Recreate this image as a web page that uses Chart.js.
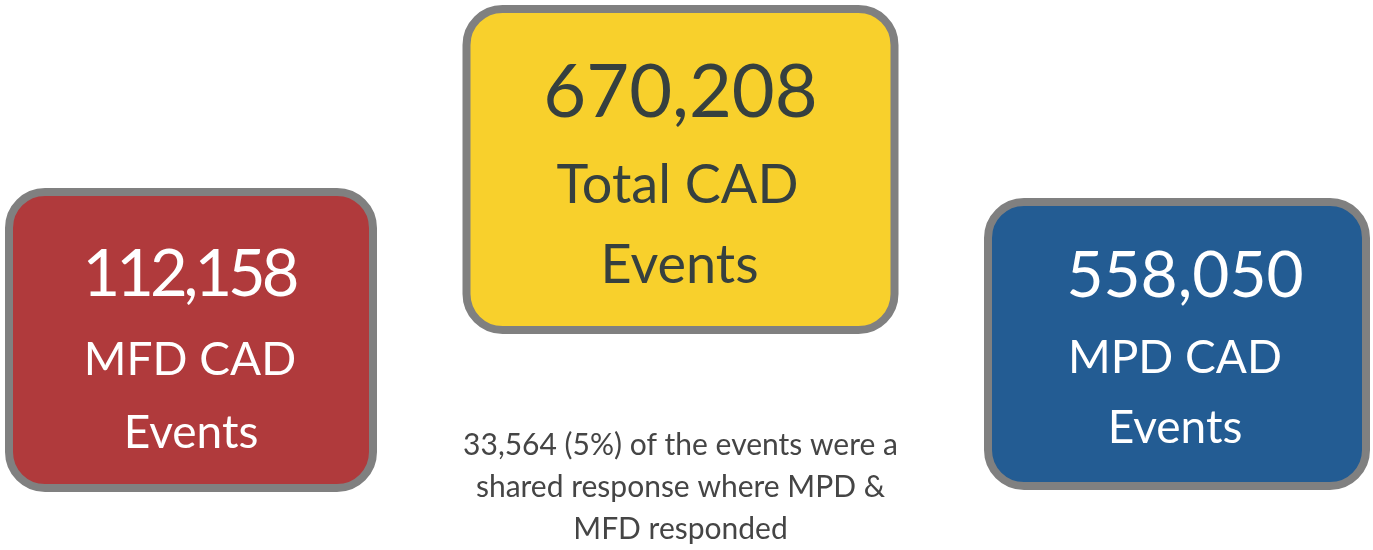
<!DOCTYPE html>
<html>
<head>
<meta charset="utf-8">
<script src="https://cdn.jsdelivr.net/npm/chart.js@4.4.1/dist/chart.umd.min.js"></script>
<style>
  html, body { margin: 0; padding: 0; background: #ffffff; }
  #wrap { width: 1373px; height: 550px; position: relative; }
</style>
</head>
<body>
<div id="wrap"><canvas id="c" width="1373" height="550"></canvas></div>
<script>
// ---- data ----
const categories = ['MFD', 'Total', 'MPD'];
const eventCounts = [112158, 670208, 558050];
const boxLabelLines = [['MFD CAD', 'Events'], ['Total CAD', 'Events'], ['MPD CAD', 'Events']];
const captionLines = ['33,564 (5%) of the events were a', 'shared response where MPD &', 'MFD responded'];

// ---- styles / layout ----
const FONT = 'Lato, "Open Sans", sans-serif';
const WEIGHT = '400';
const boxStyles = [
  { fill: '#B03A3C', text: '#FFFFFF', width: 372, top: 188, bottom: 492, dx: -1,
    numSize: 65, numY: 296, numDx: 0, numSpacing: -4, labSize: 46, labY: [375, 448], labDx: [-1, 0] },
  { fill: '#F8D02C', text: '#36403F', width: 436, top: 5, bottom: 334, dx: -4,
    numSize: 74, numY: 117, numDx: 0, numSpacing: 0, labSize: 54, labY: [203, 283], labDx: [-3, -1] },
  { fill: '#235C93', text: '#FFFFFF', width: 386, top: 198, bottom: 490, dx: 0,
    numSize: 64, numY: 297, numDx: 8, numSpacing: 0, labSize: 46, labY: [373, 443], labDx: [-2, -2] }
];

function roundRect(ctx, x, y, w, h, r) {
  ctx.beginPath();
  ctx.moveTo(x + r, y);
  ctx.lineTo(x + w - r, y);
  ctx.arcTo(x + w, y, x + w, y + r, r);
  ctx.lineTo(x + w, y + h - r);
  ctx.arcTo(x + w, y + h, x + w - r, y + h, r);
  ctx.lineTo(x + r, y + h);
  ctx.arcTo(x, y + h, x, y + h - r, r);
  ctx.lineTo(x, y + r);
  ctx.arcTo(x, y, x + r, y, r);
  ctx.closePath();
}

function centeredText(ctx, text, cx, y, spacing) {
  if (!spacing) { ctx.textAlign = 'center'; ctx.fillText(text, cx, y); return; }
  const chars = Array.from(text);
  const widths = chars.map(c => ctx.measureText(c).width);
  const total = widths.reduce((a, b) => a + b, 0) + spacing * (chars.length - 1);
  let x = cx - total / 2;
  ctx.textAlign = 'left';
  chars.forEach((c, k) => { ctx.fillText(c, x, y); x += widths[k] + spacing; });
  ctx.textAlign = 'center';
}

const statBoxes = {
  id: 'statBoxes',
  afterDatasetsDraw(chart, args, opts) {
    const ctx = chart.ctx;
    const xs = chart.scales.x;
    const meta = chart.getDatasetMeta(0);
    ctx.save();
    meta.data.forEach((el, i) => {
      const s = opts.styles[i];
      const cx = xs.getPixelForValue(i) + s.dx;
      const bw = opts.border;
      const x = cx - s.width / 2 + bw / 2;
      const y = s.top + bw / 2;
      const w = s.width - bw;
      const h = s.bottom - s.top - bw;
      roundRect(ctx, x, y, w, h, opts.radius);
      ctx.fillStyle = s.fill;
      ctx.fill();
      ctx.lineWidth = bw;
      ctx.strokeStyle = opts.borderColor;
      ctx.stroke();

      ctx.fillStyle = s.text;
      ctx.textBaseline = 'alphabetic';
      const value = chart.data.datasets[0].data[i];
      ctx.font = WEIGHT + ' ' + s.numSize + 'px ' + FONT;
      centeredText(ctx, value.toLocaleString('en-US'), cx + s.numDx, s.numY, s.numSpacing);
      ctx.font = WEIGHT + ' ' + s.labSize + 'px ' + FONT;
      boxLabelLines[i].forEach((line, j) => {
        centeredText(ctx, line, cx + s.labDx[j], s.labY[j], 0);
      });
    });

    // caption
    ctx.fillStyle = opts.captionColor;
    ctx.font = WEIGHT + ' ' + opts.captionSize + 'px ' + FONT;
    ctx.textAlign = 'center';
    ctx.textBaseline = 'alphabetic';
    const ccx = xs.getPixelForValue(1) + opts.captionDx;
    captionLines.forEach((line, j) => {
      ctx.fillText(line, ccx, opts.captionY + j * opts.captionLH);
    });
    ctx.restore();
  }
};

new Chart(document.getElementById('c'), {
  type: 'bar',
  data: {
    labels: categories,
    datasets: [{
      label: 'CAD Events',
      data: eventCounts,
      backgroundColor: 'rgba(0,0,0,0)',
      borderWidth: 0
    }]
  },
  options: {
    responsive: false,
    animation: false,
    layout: { padding: { left: 192, right: 196, top: 0, bottom: 0 } },
    scales: {
      x: { display: false, offset: false },
      y: { display: false, beginAtZero: true }
    },
    plugins: {
      legend: { display: false },
      tooltip: { enabled: false },
      statBoxes: {
        styles: boxStyles,
        border: 8,
        radius: 36,
        borderColor: '#808080',
        captionColor: '#454545',
        captionSize: 30,
        captionY: 455,
        captionLH: 42,
        captionDx: -4
      }
    }
  },
  plugins: [statBoxes]
});
</script>
</body>
</html>
